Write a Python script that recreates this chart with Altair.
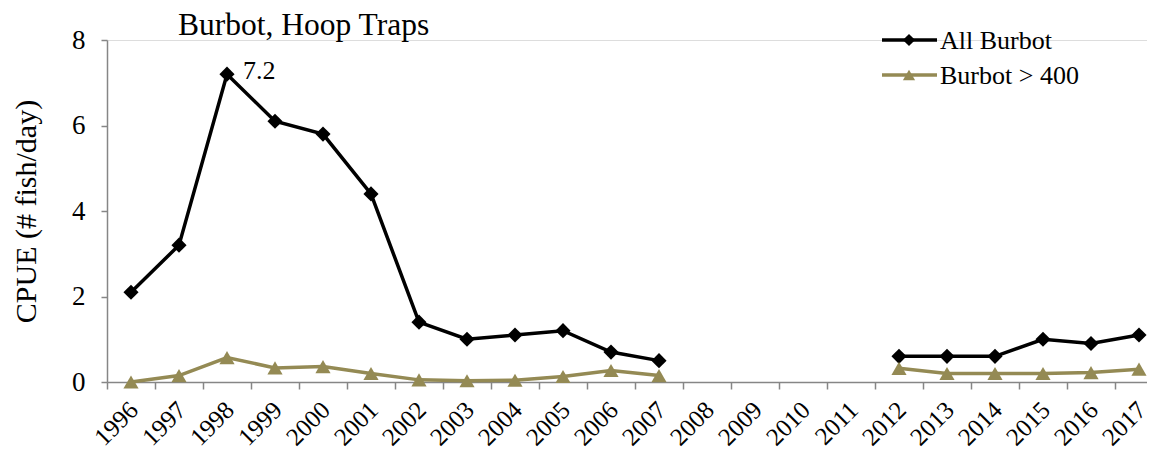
import altair as alt
import pandas as pd

all_years = list(range(1996, 2018))
survey_years = [1996, 1997, 1998, 1999, 2000, 2001, 2002, 2003, 2004, 2005, 2006, 2007,
                2012, 2013, 2014, 2015, 2016, 2017]
all_burbot = [2.1, 3.2, 7.2, 6.1, 5.8, 4.4, 1.4, 1.0, 1.1, 1.2, 0.7, 0.5,
              0.6, 0.6, 0.6, 1.0, 0.9, 1.1]
burbot_400 = [0.0, 0.15, 0.57, 0.33, 0.36, 0.2, 0.05, 0.03, 0.04, 0.13, 0.27, 0.15,
              0.32, 0.2, 0.2, 0.2, 0.22, 0.3]
series_names = ["All Burbot", "Burbot > 400"]
series_colors = ["#000000", "#948A54"]
series_shapes = ["diamond", "triangle-up"]
y_ticks = [0, 2, 4, 6, 8]
chart_title = "Burbot, Hoop Traps"

rows = []
for name, vals in zip(series_names, [all_burbot, burbot_400]):
    for yr, v in zip(survey_years, vals):
        rows.append({"Year": str(yr), "CPUE": v, "Series": name,
                     "Segment": "a" if yr <= 2007 else "b"})
df = pd.DataFrame(rows)

year_domain = [str(y) for y in all_years]
FONT = "Liberation Serif"

x_enc = alt.X("Year:O", scale=alt.Scale(domain=year_domain, range=[0, 1056],
                                        paddingInner=0, paddingOuter=0),
              axis=alt.Axis(title=None, labelAngle=-45, tickBand="extent",
                            labelFontSize=25, labelFont=FONT, labelColor="#000",
                            labelOffset=-6,
                            domainColor="#868686", tickColor="#868686",
                            tickSize=7, labelPadding=8, domainWidth=1.5, tickWidth=1.5))
y_enc = alt.Y("CPUE:Q", scale=alt.Scale(domain=[0, 8]),
              axis=alt.Axis(title="CPUE (# fish/day)", values=y_ticks, grid=False,
                            labelFontSize=27, labelFont=FONT, labelColor="#000",
                            titleFont=FONT, titleFontSize=30, titleFontWeight="normal",
                            titleColor="#000", titlePadding=30,
                            domainColor="#868686", tickColor="#868686",
                            tickSize=6, labelPadding=16, domainWidth=1.5, tickWidth=1.5))

color_scale = alt.Scale(domain=series_names, range=series_colors)

base = alt.Chart(df)
lines = base.mark_line(strokeWidth=3.5).encode(
    x=x_enc, y=y_enc, color=alt.Color("Series:N", scale=color_scale, legend=None),
    detail="Segment:N")
points = base.mark_point(filled=True, opacity=1, size=230).encode(
    x=x_enc, y=y_enc, color=alt.Color("Series:N", scale=color_scale, legend=None),
    shape=alt.Shape("Series:N", scale=alt.Scale(domain=series_names, range=series_shapes),
                    legend=None))
label = base.transform_filter(
    (alt.datum.Series == "All Burbot") & (alt.datum.Year == "1998")
).mark_text(align="left", baseline="middle", dx=16, dy=-3, font=FONT, fontSize=26,
            color="#000").encode(x=x_enc, y=y_enc, text=alt.Text("CPUE:Q", format=".1f"))

# title as text
title_layer = alt.Chart(pd.DataFrame({"t": [chart_title]})).mark_text(
    align="left", baseline="alphabetic", font=FONT, fontSize=31.5, color="#000"
).encode(x=alt.value(71), y=alt.value(-5), text="t:N")

# manual legend
legend_layers = []
for i, (name, col, shp) in enumerate(zip(series_names, series_colors, series_shapes)):
    ldf = pd.DataFrame({"Series": [name]})
    ly = i * 35
    legend_layers.append(alt.Chart(ldf).mark_rule(color=col, strokeWidth=3.5).encode(
        x=alt.value(775), x2=alt.value(830), y=alt.value(ly)))
    legend_layers.append(alt.Chart(ldf).mark_point(
        filled=True, opacity=1, color=col, shape=shp, size=150).encode(
        x=alt.value(802), y=alt.value(ly)))
    legend_layers.append(alt.Chart(ldf).mark_text(
        align="left", baseline="middle", font=FONT, fontSize=26, color="#000").encode(
        x=alt.value(833), y=alt.value(ly + 1), text="Series:N"))

chart = alt.layer(lines, points, label, title_layer, *legend_layers).properties(
    width=1040, height=342,
    autosize=alt.AutoSizeParams(type="none"),
    padding={"left": 99, "top": 32, "right": 0, "bottom": 72},
).configure_view(stroke=None).configure(background="white")

chart.save("out.html", embed_options={"renderer": "svg", "actions": False})
